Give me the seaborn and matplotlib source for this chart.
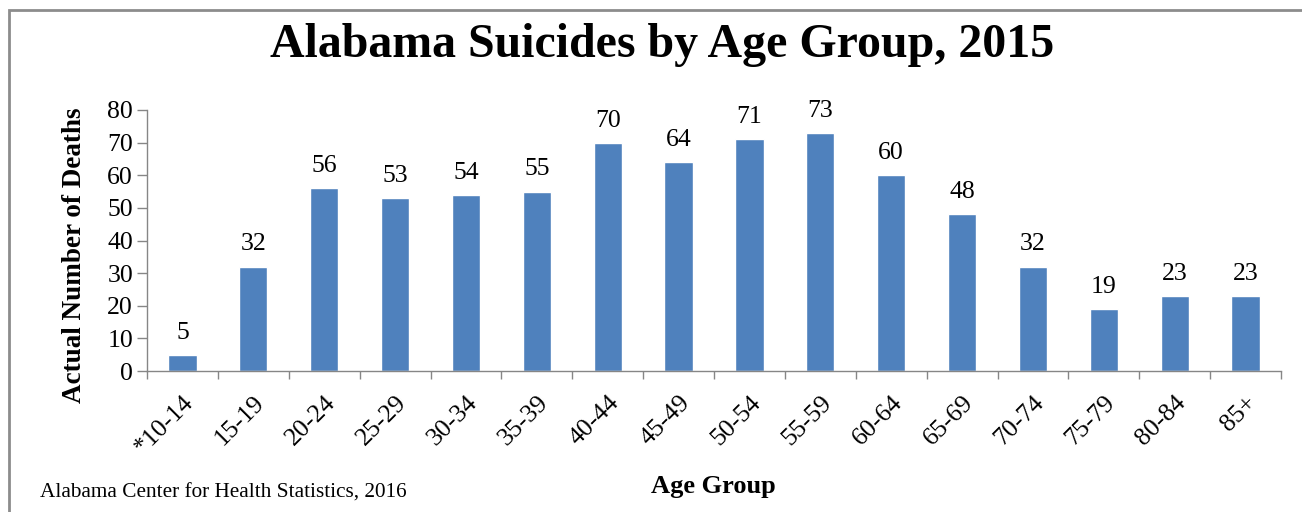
import numpy as np
import pandas as pd
import matplotlib
matplotlib.use("Agg")
import matplotlib.pyplot as plt
import seaborn as sns
from matplotlib.patches import Rectangle

sns.set_style("white")
plt.rcParams['font.family'] = ['Liberation Serif', 'DejaVu Serif']
plt.rcParams['text.color'] = 'black'
plt.rcParams['axes.labelcolor'] = 'black'
plt.rcParams['xtick.labelcolor'] = 'black'
plt.rcParams['ytick.labelcolor'] = 'black'

# data
age_groups = ["*10-14", "15-19", "20-24", "25-29", "30-34", "35-39", "40-44", "45-49",
              "50-54", "55-59", "60-64", "65-69", "70-74", "75-79", "80-84", "85+"]
deaths = [5, 32, 56, 53, 54, 55, 70, 64, 71, 73, 60, 48, 32, 19, 23, 23]

bar_color = "#4F81BD"
axis_color = "#868686"

df = pd.DataFrame({"age": age_groups, "deaths": deaths})

fig = plt.figure(figsize=(13.02, 5.12), dpi=100)
ax = fig.add_axes([147/1302, 1-371/512, (1281-147)/1302, (371-110)/512])

sns.barplot(data=df, x="age", y="deaths", color=bar_color, width=0.4,
            saturation=1, ax=ax)

#value labels
for i, v in enumerate(deaths):
    ax.annotate(str(v), xy=(i, v), xytext=(0, 8), textcoords="offset points",
                ha="center", va="bottom", fontsize=18.5)

ax.set_xlim(-0.5, len(age_groups) - 0.5)
ax.set_ylim(0, 80)
ax.set_yticks(np.arange(0, 81, 10))
ax.tick_params(axis="y", labelsize=18.5, length=7, width=1, color=axis_color,
               direction="out", left=True, pad=3)

#x ticks between categories
ax.set_xticks(np.arange(len(age_groups)))
ax.set_xticklabels(age_groups, rotation=45, ha="right", rotation_mode="anchor",
                   fontsize=18.5)
ax.tick_params(axis="x", which="major", length=0, pad=15)
ax.set_xticks(np.arange(-0.5, len(age_groups)), minor=True)
ax.tick_params(axis="x", which="minor", length=6, width=1, color=axis_color,
               direction="out", bottom=True)

for s in ["top", "right"]:
    ax.spines[s].set_visible(False)
for s in ["left", "bottom"]:
    ax.spines[s].set_color(axis_color)
    ax.spines[s].set_linewidth(1)

ax.set_xlabel("")
ax.set_ylabel("")

fig.text(662/1302, 1-45/512, "Alabama Suicides by Age Group, 2015", ha="center",
         va="center", fontsize=34.5, fontweight="bold")
fig.text(75/1302, 1-255/512, "Actual Number of Deaths", rotation=90, ha="center",
         va="center", fontsize=19.5, fontweight="bold")
fig.text(713/1302, 1-487/512, "Age Group", ha="center", va="center",
         fontsize=19, fontweight="bold")
fig.text(40/1302, 1-493/512, "Alabama Center for Health Statistics, 2016",
         ha="left", va="center", fontsize=15.3)

#outer frame
fig.patches.append(Rectangle((9/1302, -0.05), 1.1, 1-10/512 + 0.05,
                             transform=fig.transFigure, fill=False,
                             edgecolor="#8c8c8c", linewidth=2))

fig.savefig("out.png", dpi=100)
